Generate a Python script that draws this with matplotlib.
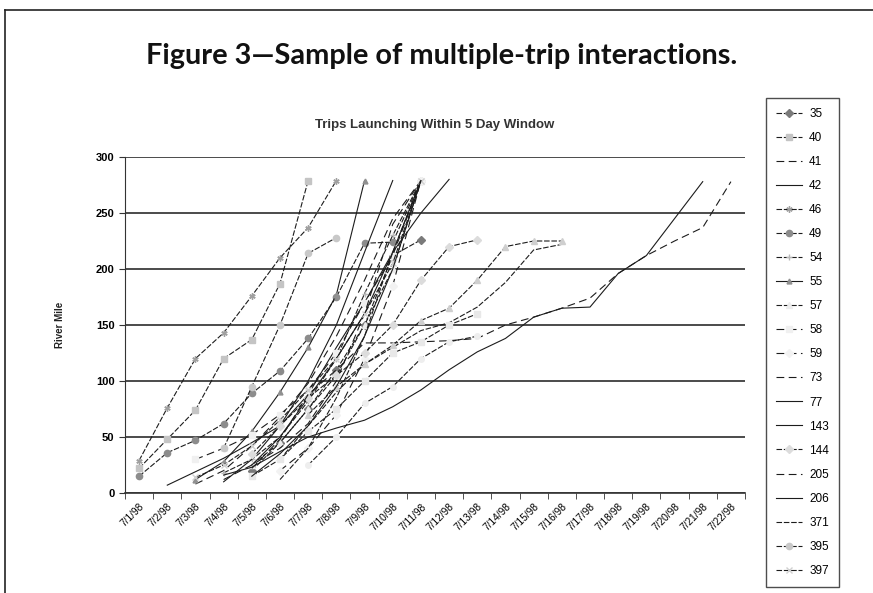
import matplotlib
matplotlib.use("Agg")
import numpy as np
import matplotlib.pyplot as plt
from matplotlib.lines import Line2D

# category axis: one bin per launch day
days = ["7/%d/98" % d for d in range(1, 23)]

# trip ids shown in the legend (the last rows of the original legend are cut off)
trip_ids = ["35", "40", "41", "42", "46", "49", "54", "55", "57", "58",
            "59", "73", "77", "143", "144", "205", "206", "371", "395", "397"]
extra_ids = ["_398", "_402", "_405", "_411", "_415"]

# index of first day of each trip, and the river mile at each day after that
trip_start = [4, 0, 2, 1, 0, 0, 3, 2, 4, 2,
              5, 3, 3, 4, 4, 4, 3, 5, 3, 2,
              6, 5, 4, 4, 6]
trip_miles = [
    [20, 45, 75, 110, 150, 212, 226],
    [22, 48, 74, 120, 137, 187, 279],
    [8, 20, 42, 68, 98, 140, 190, 245, 279],
    [7, 19, 31, 45, 60, 88, 130, 170, 215, 279],
    [29, 76, 120, 143, 176, 210, 237, 279],
    [15, 36, 47, 62, 89, 109, 138, 175, 223, 224, 279],
    [18, 30, 50, 82, 120, 178, 230, 279],
    [12, 28, 55, 90, 130, 177, 279],
    [25, 45, 75, 105, 150, 200, 279],
    [30, 40, 52, 70, 92, 125, 170, 212, 279],
    [20, 40, 70, 120, 185, 279],
    [12, 25, 40, 62, 100, 160, 240, 279],
    [10, 30, 60, 100, 150, 215, 279],
    [25, 50, 85, 120, 160, 215, 250, 280],
    [35, 60, 85, 105, 125, 150, 190, 220, 226],
    [22, 48, 88, 110, 134, 134, 135, 136, 138, 150, 157, 165, 174, 196, 212, 225, 237, 278],
    [16, 23, 37, 50, 58, 65, 77, 92, 110, 126, 138, 157, 165, 166, 196, 212, 245, 278],
    [30, 60, 90, 115, 130, 145, 152, 166, 188, 217, 222],
    [40, 95, 150, 214, 228],
    [14, 25, 42, 65, 92, 120, 160, 205, 279],
    [70, 95, 115, 132, 154, 165, 190, 220, 225, 225],
    [12, 40, 85, 140, 215, 279],
    [15, 30, 55, 75, 100, 125, 135, 150, 160],
    [15, 35, 60, 95, 140, 200, 279],
    [25, 50, 80, 95, 120, 135, 140],
]

# greyscale excel-ish markers
markers = ["D", "s", "None", "None", (6, 2, 0), "o", "+", "^", "^", "s",
           "D", "None", "None", "None", "D", "None", "None", "None", "o", "x",
           "^", "None", "s", "None", "o"]
marker_col = ["#7a7a7a", "#c4c4c4", "w", "w", "#a0a0a0", "#8c8c8c", "#b8b8b8", "#909090", "#ececec", "#f0f0f0",
              "#f2f2f2", "w", "w", "w", "#dcdcdc", "w", "w", "w", "#c8c8c8", "#d0d0d0",
              "#cfcfcf", "w", "#e8e8e8", "w", "#eeeeee"]
marker_size = [4.5, 4.5, 4, 4, 4.5, 4.5, 4, 3.5, 4, 4,
               4, 4, 4, 4, 4.5, 4, 4, 4, 4.5, 4,
               4.5, 4, 4, 4, 4]
dash = (0, (5, 1.6))
long_dash = (0, (7, 4))
styles = [dash, dash, long_dash, "-", dash, dash, dash, "-", dash, long_dash,
          long_dash, long_dash, "-", "-", dash, long_dash, "-", dash, dash, dash,
          dash, dash, dash, "-", dash]

plt.rcParams["font.family"] = ["Liberation Sans", "DejaVu Sans"]

fig = plt.figure(figsize=(8.73, 5.93), dpi=100)
ax = fig.add_axes([125 / 873, 100 / 593, 620 / 873, 336 / 593])

labels = trip_ids + extra_ids
for i, vals in enumerate(trip_miles):
    x = np.arange(trip_start[i], trip_start[i] + len(vals))
    ax.plot(x, vals, color="#1c1c1c", lw=0.8, linestyle=styles[i],
            marker=markers[i], ms=marker_size[i], mfc=marker_col[i], mec=marker_col[i],
            label=labels[i], zorder=3)

ax.set_xlim(-0.5, 21.5)
ax.set_ylim(0, 300)
ax.set_yticks(range(0, 301, 50))
ax.yaxis.grid(True, color="#1a1a1a", lw=1.1)
ax.set_axisbelow(True)
for s in ["top", "right"]:
    ax.spines[s].set_visible(False)
ax.spines["left"].set_color("#333333")
ax.spines["bottom"].set_color("#333333")
ax.spines["bottom"].set_linewidth(1.2)

ax.set_xticks(range(len(days)))
ax.set_xticklabels(days, rotation=45, ha="right", rotation_mode="anchor", fontsize=7.3)
ax.set_xticks(np.arange(-0.5, 22, 1), minor=True)
ax.tick_params(axis="x", which="major", length=0, pad=6)
ax.tick_params(axis="x", which="minor", length=4, direction="out", color="#333333")
ax.tick_params(axis="y", length=4, direction="out", color="#333333", labelsize=8)
for t in ax.get_yticklabels():
    t.set_fontweight("bold")

fig.text(435 / 873, 1 - 125 / 593, "Trips Launching Within 5 Day Window",
         ha="center", va="center", fontsize=9.5, fontweight="bold", color="#333333")
fig.text(60 / 873, 1 - 325 / 593, "River Mile", rotation=90, ha="center",
         va="center", fontsize=7, fontweight="bold", color="#222222")

fig.text(442 / 873, 1 - 56 / 593, "Figure 3\u2014Sample of multiple-trip interactions.",
         ha="center", va="center", fontsize=20.8, fontweight="bold",
         family=["Lato", "DejaVu Sans"], color="#111111")

# page frame
fig.add_artist(Line2D([5 / 873, 5 / 873], [0, 1 - 10 / 593], transform=fig.transFigure,
                      color="#222222", lw=1.2))
fig.add_artist(Line2D([5 / 873, 1], [1 - 10 / 593, 1 - 10 / 593], transform=fig.transFigure,
                      color="#222222", lw=1.2))

leg = fig.legend(loc="upper left", bbox_to_anchor=(766 / 873, 1 - 98 / 593),
                 fontsize=8.5, handlelength=2.2, labelspacing=1.02, frameon=True,
                 fancybox=False, borderaxespad=0, borderpad=0.85, handletextpad=0.6)
leg.get_frame().set_edgecolor("#222222")
leg.get_frame().set_linewidth(1.0)

fig.savefig("out.png", dpi=100)
